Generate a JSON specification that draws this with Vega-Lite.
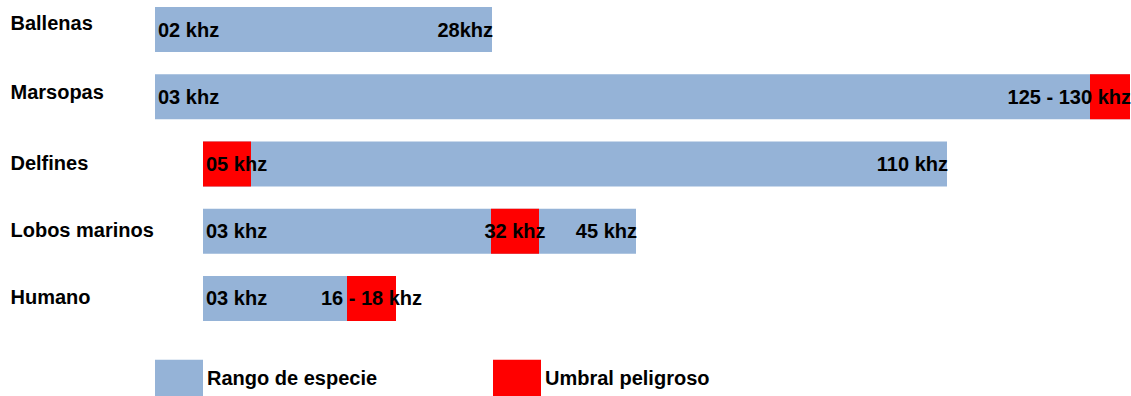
{
  "$schema": "https://vega.github.io/schema/vega-lite/v6.json",
  "width": 976,
  "height": 328,
  "padding": {"left": 10, "top": 0, "right": 0, "bottom": 0},
  "background": "white",
  "config": {
    "view": {"stroke": null},
    "font": "Liberation Sans"
  },
  "datasets": {
    "barras": [
      {"especie": "Ballenas", "tipo": "Rango de especie", "desde": 0, "hasta": 337},
      {"especie": "Marsopas", "tipo": "Rango de especie", "desde": 0, "hasta": 975},
      {"especie": "Delfines", "tipo": "Rango de especie", "desde": 48, "hasta": 792},
      {"especie": "Lobos marinos", "tipo": "Rango de especie", "desde": 48, "hasta": 481},
      {"especie": "Humano", "tipo": "Rango de especie", "desde": 48, "hasta": 241},
      {"especie": "Marsopas", "tipo": "Umbral peligroso", "desde": 935, "hasta": 975},
      {"especie": "Delfines", "tipo": "Umbral peligroso", "desde": 48, "hasta": 96},
      {"especie": "Lobos marinos", "tipo": "Umbral peligroso", "desde": 336, "hasta": 384},
      {"especie": "Humano", "tipo": "Umbral peligroso", "desde": 192, "hasta": 241}
    ],
    "etiquetas": [
      {"especie": "Ballenas", "texto": "02 khz", "valor": 0, "ancla": "inicio"},
      {"especie": "Ballenas", "texto": "28khz", "valor": 337, "ancla": "fin"},
      {"especie": "Marsopas", "texto": "03 khz", "valor": 0, "ancla": "inicio"},
      {"especie": "Marsopas", "texto": "125 - 130 khz", "valor": 975, "ancla": "fin"},
      {"especie": "Delfines", "texto": "05 khz", "valor": 48, "ancla": "inicio"},
      {"especie": "Delfines", "texto": "110 khz", "valor": 792, "ancla": "fin"},
      {"especie": "Lobos marinos", "texto": "03 khz", "valor": 48, "ancla": "inicio"},
      {"especie": "Lobos marinos", "texto": "32 khz", "valor": 360, "ancla": "umbral"},
      {"especie": "Lobos marinos", "texto": "45 khz", "valor": 481, "ancla": "fin"},
      {"especie": "Humano", "texto": "03 khz", "valor": 48, "ancla": "inicio"},
      {"especie": "Humano", "texto": "16 - 18 khz", "valor": 216.5, "ancla": "umbral"}
    ]
  },
  "encoding": {
    "y": {
      "field": "especie",
      "type": "nominal",
      "sort": ["Ballenas", "Marsopas", "Delfines", "Lobos marinos", "Humano"],
      "scale": {"paddingInner": 0.33, "paddingOuter": 0.104},
      "axis": {
        "title": null,
        "ticks": false,
        "tickSize": 0,
        "domain": false,
        "grid": false,
        "labelAlign": "left",
        "labelPadding": 145,
        "labelOffset": {
          "condition": [
            {"test": "datum.value === 'Ballenas'", "value": -6},
            {"test": "datum.value === 'Marsopas'", "value": -4}
          ],
          "value": 0
        },
        "labelFont": "Liberation Sans",
        "labelFontSize": 20,
        "labelFontWeight": "bold",
        "labelColor": "#000000",
        "labelLimit": 300
      }
    }
  },
  "layer": [
    {
      "data": {"name": "barras"},
      "mark": {"type": "bar", "cornerRadius": 0},
      "encoding": {
        "x": {"field": "desde", "type": "quantitative", "scale": {"domain": [0, 976], "nice": false, "zero": false}, "axis": null},
        "x2": {"field": "hasta"},
        "color": {
          "field": "tipo",
          "type": "nominal",
          "scale": {"domain": ["Rango de especie", "Umbral peligroso"], "range": ["#95B3D7", "#FF0000"]},
          "legend": {
            "title": null,
            "orient": "bottom",
            "direction": "horizontal",
            "symbolType": "M-1,-0.8H1V1H-1Z",
            "symbolSize": 2304,
            "symbolStrokeWidth": 0,
            "symbolOpacity": 1,
            "labelFont": "Liberation Sans",
            "labelFontSize": 20,
            "labelFontWeight": "bold",
            "labelColor": "#000000",
            "labelLimit": 400,
            "labelOffset": 4,
            "columnPadding": 115,
            "offset": 27,
            "padding": 0
          }
        }
      }
    },
    {
      "data": {"name": "etiquetas"},
      "transform": [{"filter": "datum.ancla === 'inicio'"}],
      "mark": {"type": "text", "align": "left", "baseline": "middle", "dx": 3, "dy": 1, "font": "Liberation Sans", "fontSize": 20, "fontWeight": "bold", "color": "#000000"},
      "encoding": {
        "x": {"field": "valor", "type": "quantitative"},
        "text": {"field": "texto"}
      }
    },
    {
      "data": {"name": "etiquetas"},
      "transform": [{"filter": "datum.ancla === 'fin'"}],
      "mark": {"type": "text", "align": "right", "baseline": "middle", "dx": 1, "dy": 1, "font": "Liberation Sans", "fontSize": 20, "fontWeight": "bold", "color": "#000000"},
      "encoding": {
        "x": {"field": "valor", "type": "quantitative"},
        "text": {"field": "texto"}
      }
    },
    {
      "data": {"name": "etiquetas"},
      "transform": [{"filter": "datum.ancla === 'umbral'"}],
      "mark": {"type": "text", "align": "center", "baseline": "middle", "dy": 1, "font": "Liberation Sans", "fontSize": 20, "fontWeight": "bold", "color": "#000000"},
      "encoding": {
        "x": {"field": "valor", "type": "quantitative"},
        "text": {"field": "texto"}
      }
    }
  ]
}
